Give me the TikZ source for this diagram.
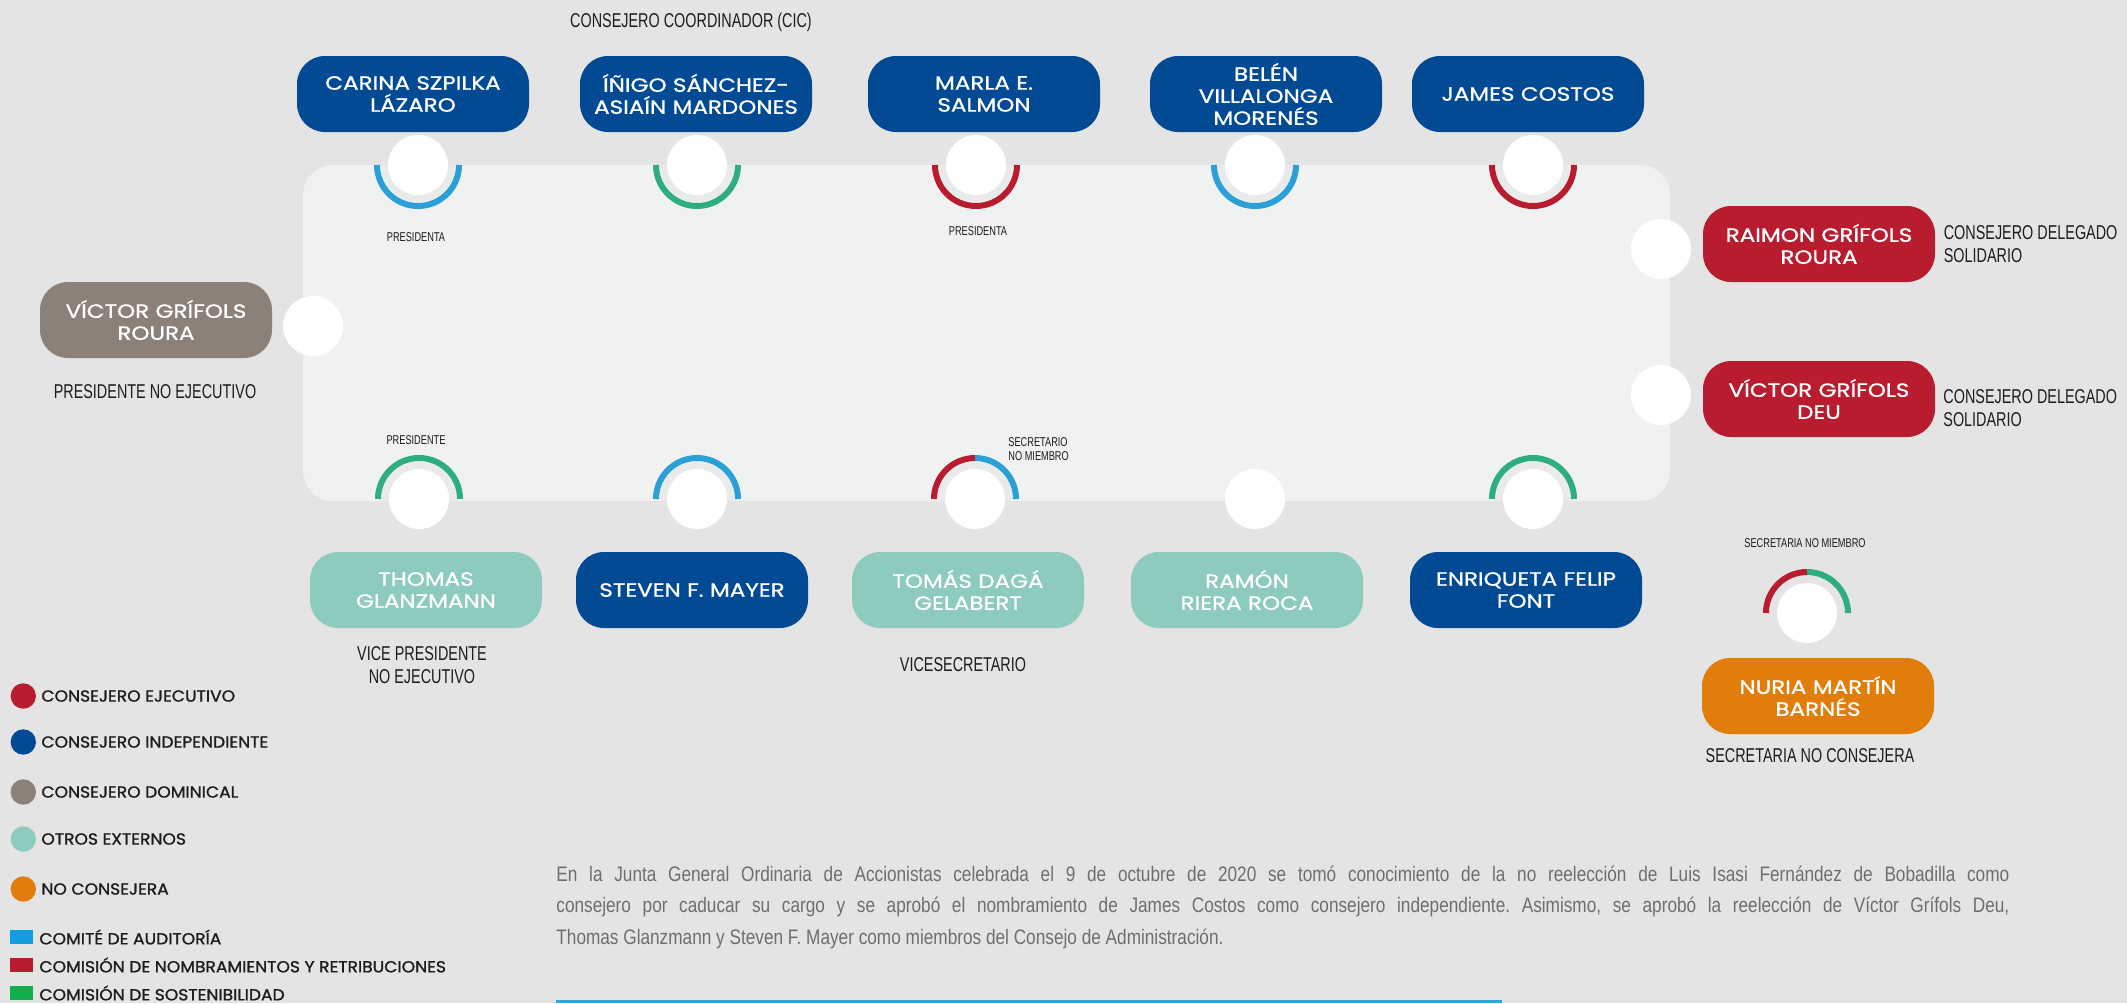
\documentclass[tikz,border=0pt]{standalone}
\usepackage{fontspec}
\frenchspacing
\newfontfamily\namefont[FakeStretch=1.2, FakeBold=1]{Poppins}
\newfontfamily\legendfont[FakeStretch=1.07, FakeBold=1.2]{Poppins}
\newfontfamily\condfont[FakeStretch=0.72]{Liberation Sans}
\newfontfamily\notefont[FakeStretch=0.82]{Liberation Sans}
\usetikzlibrary{positioning}
\definecolor{bgray}{RGB}{227,228,227}
\definecolor{tablegray}{RGB}{240,242,241}
\definecolor{halogray}{RGB}{233,235,234}
\definecolor{ejecutivo}{RGB}{184,28,46}
\definecolor{independiente}{RGB}{2,74,147}
\definecolor{dominical}{RGB}{139,129,120}
\definecolor{externo}{RGB}{140,203,190}
\definecolor{noconsejera}{RGB}{224,125,11}
\definecolor{auditoria}{RGB}{42,159,216}
\definecolor{sostenibilidad}{RGB}{46,174,126}
\definecolor{auditsq}{RGB}{16,158,226}
\definecolor{sostsq}{RGB}{16,176,75}
\definecolor{textdark}{RGB}{29,29,27}
\definecolor{notegray}{RGB}{110,110,112}
\definecolor{ruleblue}{RGB}{42,168,224}
\tikzset{
  namebox/.style={rounded corners=14pt, minimum width=116pt, minimum height=38pt,
    text width=114pt, align=center, inner sep=0pt, text=white,
    font=\namefont\fontsize{9.6}{11}\selectfont},
  seat/.style={circle, fill=white, minimum size=30pt, inner sep=0pt},
  ring/.style={line width=3pt},
  role/.style={font=\condfont\fontsize{10}{11.5}\selectfont, text=textdark, inner sep=0pt},
  mini/.style={font=\condfont\fontsize{6.4}{6.8}\selectfont, text=textdark, inner sep=0pt},
  legend/.style={font=\legendfont\fontsize{8}{9}\selectfont, text=textdark, inner sep=0pt, anchor=west}
}

\begin{document}
\begin{tikzpicture}[x=0.5pt, y=-0.5pt]
  \useasboundingbox (0,0) rectangle (2127,1003);
  \fill[bgray] (0,0) rectangle (2127,1003);
  \fill[tablegray, rounded corners=15pt] (303,165) rectangle (1670,501);

  % seats round the table
  \begin{scope}
    \clip[rounded corners=15pt] (303,165) rectangle (1670,501);
    \foreach \x in {418,697,976,1255,1533} \fill[halogray] (\x,165) circle[radius=37];
    \foreach \x in {419,697,975,1533} \fill[halogray] (\x,499) circle[radius=37];
  \end{scope}
  \foreach \n/\x in {1/418,2/697,3/976,4/1255,5/1533} \node[seat] (top\n) at (\x,165) {};
  \foreach \n/\x in {1/419,2/697,3/975,4/1255,5/1533} \node[seat] (bot\n) at (\x,499) {};
  \node[seat] (left1) at (313,326) {};
  \node[seat] (right1) at (1661,249) {};
  \node[seat] (right2) at (1661,395) {};
  \node[seat] (sec1) at (1807,613) {};

  % committees
  \draw[ring, auditoria] ([xshift=20.5pt]top1.center) arc[start angle=0, end angle=180, radius=41];
  \draw[ring, sostenibilidad] ([xshift=20.5pt]top2.center) arc[start angle=0, end angle=180, radius=41];
  \draw[ring, ejecutivo] ([xshift=20.5pt]top3.center) arc[start angle=0, end angle=180, radius=41];
  \draw[ring, auditoria] ([xshift=20.5pt]top4.center) arc[start angle=0, end angle=180, radius=41];
  \draw[ring, ejecutivo] ([xshift=20.5pt]top5.center) arc[start angle=0, end angle=180, radius=41];
  \draw[ring, sostenibilidad] ([xshift=20.5pt]bot1.center) arc[start angle=0, end angle=-180, radius=41];
  \draw[ring, auditoria] ([xshift=20.5pt]bot2.center) arc[start angle=0, end angle=-180, radius=41];
  \draw[ring, auditoria] ([xshift=20.5pt]bot3.center) arc[start angle=0, end angle=-90, radius=41];
  \draw[ring, ejecutivo] ([yshift=20.5pt]bot3.center) arc[start angle=-90, end angle=-180, radius=41];
  \draw[ring, sostenibilidad] ([xshift=20.5pt]bot5.center) arc[start angle=0, end angle=-180, radius=41];
  \draw[ring, sostenibilidad] ([xshift=20.5pt]sec1.center) arc[start angle=0, end angle=-90, radius=41];
  \draw[ring, ejecutivo] ([yshift=20.5pt]sec1.center) arc[start angle=-90, end angle=-180, radius=41];

  % board members
  \node[namebox, fill=independiente] (carina) at (413,94) {CARINA SZPILKA\\LÁZARO};
  \node[namebox, fill=independiente] (inigo) at (696,94) {ÍÑIGO SÁNCHEZ-\\ASIAÍN MARDONES};
  \node[namebox, fill=independiente] (marla) at (984,94) {MARLA E.\\SALMON};
  \node[namebox, fill=independiente] (belen) at (1266,94) {BELÉN\\VILLALONGA\\MORENÉS};
  \node[namebox, fill=independiente] (james) at (1528,94) {JAMES COSTOS};
  \node[namebox, fill=dominical] (victorr) at (156,320) {VÍCTOR GRÍFOLS\\ROURA};
  \node[namebox, fill=ejecutivo] (raimon) at (1819,244) {RAIMON GRÍFOLS\\ROURA};
  \node[namebox, fill=ejecutivo] (victord) at (1819,399) {VÍCTOR GRÍFOLS\\DEU};
  \node[namebox, fill=externo] (thomas) at (426,590) {THOMAS\\GLANZMANN};
  \node[namebox, fill=independiente] (steven) at (692,590) {STEVEN F. MAYER};
  \node[namebox, fill=externo] (tomas) at (968,590) {TOMÁS DAGÁ\\GELABERT};
  \node[namebox, fill=externo] (ramon) at (1247,590) {RAMÓN\\RIERA ROCA};
  \node[namebox, fill=independiente] (enriqueta) at (1526,590) {ENRIQUETA FELIP\\FONT};
  \node[namebox, fill=noconsejera] (nuria) at (1818,696) {NURIA MARTÍN\\BARNÉS};

  % roles
  \node[role] (cic) at (691,22) {CONSEJERO COORDINADOR (CIC)};
  \node[role, align=center] (presne) at (155,392) {PRESIDENTE NO EJECUTIVO};
  \node[role, align=center] (vicepres) at (422,665) {VICE PRESIDENTE\\NO EJECUTIVO};
  \node[role] (vicesec) at (963,665) {VICESECRETARIO};
  \node[role, align=left, right=4pt of raimon] (cdraimon) {CONSEJERO DELEGADO\\SOLIDARIO};
  \node[role, align=left, anchor=west] (cdvictor) at (1943,408) {CONSEJERO DELEGADO\\SOLIDARIO};
  \node[role] (secnc) at (1810,756) {SECRETARIA NO CONSEJERA};
  \node[mini] (pta1) at (416,237) {PRESIDENTA};
  \node[mini] (pta2) at (978,231) {PRESIDENTA};
  \node[mini] (pte1) at (416,440) {PRESIDENTE};
  \node[mini, align=left, anchor=west] (secnm) at (1008,449) {SECRETARIO\\NO MIEMBRO};
  \node[mini] (secnm2) at (1805,543) {SECRETARIA NO MIEMBRO};

  % legend
  \foreach \y/\c/\t in {696/ejecutivo/CONSEJERO EJECUTIVO, 742/independiente/CONSEJERO INDEPENDIENTE,
      792/dominical/CONSEJERO DOMINICAL, 839/externo/OTROS EXTERNOS, 889/noconsejera/NO CONSEJERA} {
    \fill[\c] (23.3,\y) circle[radius=12.7];
    \node[legend] (ley-\c) at (41,\y) {\t};
  }
  \foreach \y/\c/\t in {937/auditsq/COMITÉ DE AUDITORÍA, 965/ejecutivo/COMISIÓN DE NOMBRAMIENTOS Y RETRIBUCIONES,
      993/sostsq/COMISIÓN DE SOSTENIBILIDAD} {
    \fill[\c] (10,\y-6.7) rectangle (33,\y+6.7);
    \node[legend] (com-\c) at (39,\y) {\t};
  }

  % note
  \node[anchor=base west, inner sep=0pt, text width=726.5pt, align=justify, text=notegray,
    font=\notefont\fontsize{10.5}{15.85}\selectfont] (nota) at (556,881)
    {En la Junta General Ordinaria de Accionistas celebrada el 9 de octubre de 2020 se tomó conocimiento de la no reelección de Luis Isasi Fernández de Bobadilla como\linebreak
     consejero por caducar su cargo y se aprobó el nombramiento de James Costos como consejero independiente. Asimismo, se aprobó la reelección de Víctor Grífols Deu,\linebreak
     Thomas Glanzmann y Steven F. Mayer como miembros del Consejo de Administración.};
  \draw[ruleblue, line width=1.5pt] (556,1001.5) -- (1502,1001.5);
\end{tikzpicture}
\end{document}
